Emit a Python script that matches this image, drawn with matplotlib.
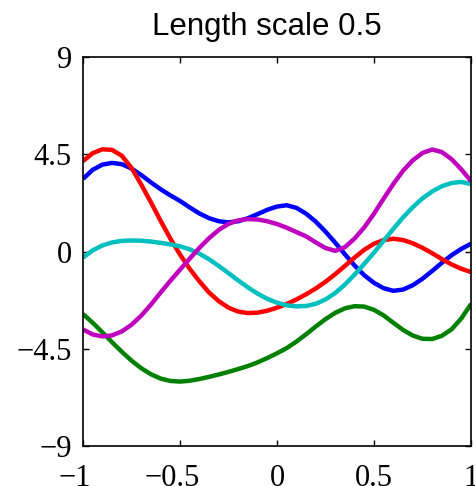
import matplotlib
matplotlib.use("Agg")
import matplotlib.pyplot as plt
from matplotlib.transforms import ScaledTranslation

# sample locations (step 0.05)
x_pts = [-1.0, -0.95, -0.9, -0.85, -0.8, -0.75, -0.7, -0.65, -0.6, -0.55,
         -0.5, -0.45, -0.4, -0.35, -0.3, -0.25, -0.2, -0.15, -0.1, -0.05,
         0.0, 0.05, 0.1, 0.15, 0.2, 0.25, 0.3, 0.35, 0.4, 0.45,
         0.5, 0.55, 0.6, 0.65, 0.7, 0.75, 0.8, 0.85, 0.9, 0.95, 1.0]

blue_y = [3.36, 3.78, 4.02, 4.10, 4.04, 3.84, 3.54, 3.2, 2.88, 2.6,
          2.34, 2.04, 1.76, 1.54, 1.4, 1.35, 1.4, 1.54, 1.73, 1.93,
          2.08, 2.14, 2.02, 1.75, 1.38, 0.92, 0.41, -0.13, -0.65, -1.1,
          -1.45, -1.7, -1.82, -1.76, -1.56, -1.26, -0.9, -0.52, -0.17, 0.12, 0.36]
green_y = [-2.89, -3.3, -3.74, -4.2, -4.64, -5.05, -5.4, -5.68, -5.88, -5.99,
           -6.02, -5.98, -5.9, -5.8, -5.69, -5.57, -5.44, -5.3, -5.13, -4.93,
           -4.71, -4.47, -4.17, -3.83, -3.47, -3.13, -2.84, -2.63, -2.53, -2.55,
           -2.7, -2.96, -3.3, -3.63, -3.89, -4.04, -4.05, -3.9, -3.6, -3.1, -2.43]
red_y = [4.18, 4.55, 4.73, 4.7, 4.43, 3.87, 3.1, 2.28, 1.42, 0.6,
         -0.14, -0.8, -1.38, -1.9, -2.3, -2.6, -2.78, -2.85, -2.83, -2.74,
         -2.6, -2.43, -2.22, -1.98, -1.71, -1.4, -1.05, -0.67, -0.28, 0.08,
         0.36, 0.53, 0.59, 0.53, 0.38, 0.17, -0.08, -0.35, -0.6, -0.8, -0.95]
cyan_y = [-0.28, 0.05, 0.28, 0.42, 0.49, 0.51, 0.5, 0.46, 0.4, 0.33,
          0.24, 0.1, -0.1, -0.36, -0.67, -1.0, -1.34, -1.66, -1.95, -2.19,
          -2.37, -2.49, -2.54, -2.52, -2.42, -2.22, -1.92, -1.53, -1.07, -0.57,
          -0.05, 0.5, 1.05, 1.58, 2.05, 2.46, 2.78, 3.02, 3.17, 3.22, 3.12]
magenta_y = [-3.61, -3.84, -3.93, -3.88, -3.7, -3.39, -2.97, -2.46, -1.9, -1.36,
             -0.84, -0.33, 0.17, 0.62, 1.0, 1.28, 1.44, 1.5, 1.48, 1.4,
             1.27, 1.1, 0.9, 0.7, 0.42, 0.16, 0.03, 0.2, 0.6, 1.12,
             1.75, 2.45, 3.13, 3.74, 4.22, 4.56, 4.72, 4.6, 4.27, 3.8, 3.26]

# matlab-style default colour order, drawn in that order
series = [
    (blue_y, (0, 0, 1)),
    (green_y, (0, 0.5, 0)),
    (red_y, (1, 0, 0)),
    (cyan_y, (0, 0.75, 0.75)),
    (magenta_y, (0.75, 0, 0.75)),
]

x_ticks = [-1, -0.5, 0, 0.5, 1]
x_labels = ["\u22121", "\u22120.5", "0", "0.5", "1"]
y_ticks = [-9, -4.5, 0, 4.5, 9]
y_labels = ["\u22129", "\u22124.5", "0", "4.5", "9"]

fig = plt.figure(figsize=(4.75, 4.86), dpi=100)
ax = fig.add_axes([83 / 475, 40 / 486, 388 / 475, 389 / 486])

for y_vals, col in series:
    ax.plot(x_pts, y_vals, color=col, linewidth=3.2, solid_capstyle="butt")

ax.set_xlim(-1, 1)
ax.set_ylim(-9, 9)
ax.set_xticks(x_ticks)
ax.set_xticklabels(x_labels, family="Liberation Serif", fontsize=22)
ax.set_yticks(y_ticks)
ax.set_yticklabels(y_labels, family="Liberation Serif", fontsize=22)
ax.tick_params(direction="in", length=4, width=1, top=True, right=True)
ax.tick_params(axis="x", pad=13)
ax.tick_params(axis="y", pad=8)
for sp in ax.spines.values():
    sp.set_linewidth(1.2)

# negative x labels sit a little left of their tick in the original
shift = ScaledTranslation(-8 / 100, 0, fig.dpi_scale_trans)
for lab in ax.get_xticklabels():
    if lab.get_text().startswith("\u2212"):
        lab.set_transform(lab.get_transform() + shift)

ax.set_title("Length scale 0.5", family="Liberation Sans", fontsize=22.5,
             x=0.474, pad=16)

fig.savefig("out.png", dpi=100)
